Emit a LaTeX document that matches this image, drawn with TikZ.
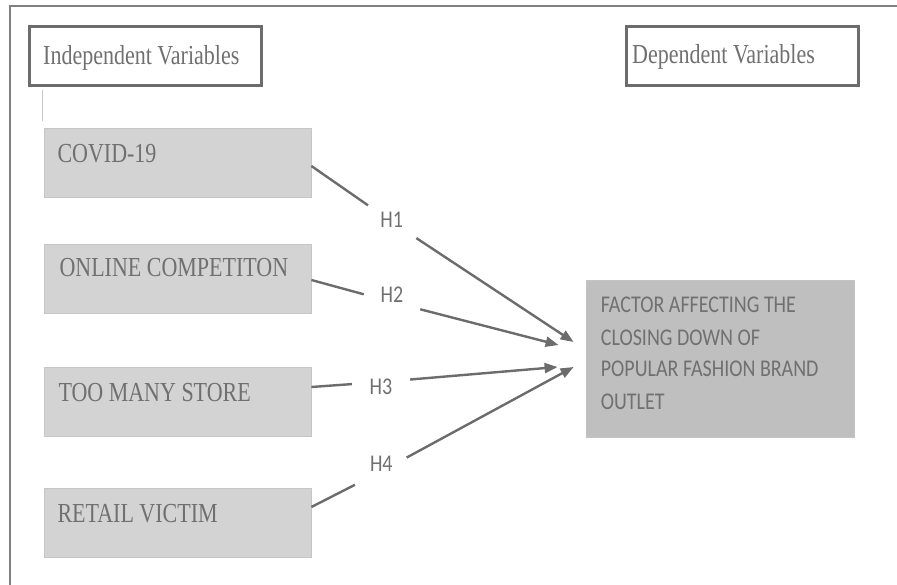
\documentclass[tikz,border=0pt]{standalone}
\usepackage{fontspec}
\setmainfont{Liberation Serif}
\newfontfamily\calfont{Carlito}
\usetikzlibrary{arrows.meta,calc}

\definecolor{framegray}{RGB}{128,128,128}
\definecolor{titleedge}{RGB}{108,108,108}
\definecolor{ivfill}{RGB}{211,211,211}
\definecolor{ivedge}{RGB}{198,198,198}
\definecolor{dvfill}{RGB}{191,191,191}
\definecolor{textgray}{RGB}{112,112,112}
\definecolor{linkgray}{RGB}{108,108,108}

% vertically stretched text
\newcommand{\tallserif}[1]{\scalebox{1}[1.25]{#1}}
\newcommand{\tallsans}[1]{\scalebox{1}[1.2]{#1}}

\begin{document}
\begin{tikzpicture}[x=1pt,y=-1pt,
  titlebox/.style={draw=titleedge,line width=2.6pt,fill=white,inner sep=0pt,
                   minimum width=232pt,minimum height=59pt},
  ivbox/.style={draw=ivedge,line width=0.8pt,fill=ivfill,inner sep=0pt,
                minimum width=267pt,minimum height=69pt},
  dvbox/.style={draw=ivedge!60!dvfill,line width=0.8pt,fill=dvfill,inner sep=0pt,
                minimum width=268pt,minimum height=157pt},
  serifword/.style={inner sep=0pt,anchor=base west,text=textgray,
                    font=\fontsize{22}{26}\selectfont},
  sansword/.style={inner sep=0pt,anchor=base west,text=textgray,
                   font=\calfont\fontsize{20}{24}\selectfont},
  hyp/.style={inner sep=0pt,text=textgray,font=\calfont\fontsize{20}{24}\selectfont},
  gap/.style={circle,minimum size=58pt,inner sep=0pt},
  link/.style={draw=linkgray,line width=2.4pt},
  tip/.style={-{Triangle[length=13pt,width=10pt]}}
]
\useasboundingbox (0,0) rectangle (897,585);

% page frame (top and left edges)
\draw[framegray,line width=1.4pt] (897,6) -- (10,6) -- (10,585);

% headings
\node[titlebox] (ind) at (145.5,56) {};
\node[serifword] (indtext) at (43,65) {\tallserif{Independent Variables}};
\node[titlebox] (dep) at (742.5,56) {};
\node[serifword] (deptext) at (632,64) {\tallserif{Dependent Variables}};

% independent variable boxes
\node[ivbox] (c1) at (177.5,162.5) {};
\node[ivbox] (c2) at (177.5,278.5) {};
\node[ivbox] (c3) at (177.5,402) {};
\node[ivbox] (c4) at (177.5,523) {};
\node[serifword] (l1) at (57.3,162.7) {\tallserif{COVID-19}};
\node[serifword] (l2) at (59.3,276.7) {\tallserif{ONLINE COMPETITON}};
\node[serifword] (l3) at (58.3,401.7) {\tallserif{TOO MANY STORE}};
\node[serifword] (l4) at (57.3,522.3) {\tallserif{RETAIL VICTIM}};

% thin mark under the heading
\draw[ivedge,line width=1pt] ($(c1.north west)+(-1,-38)$) -- ($(c1.north west)+(-1,-7)$);

% dependent variable box
\node[dvbox] (f) at (720,358.5) {};
\node[sansword] (f1) at (600.7,313) {\tallsans{FACTOR AFFECTING THE}};
\node[sansword] (f2) at (600.7,345) {\tallsans{CLOSING DOWN OF}};
\node[sansword] (f3) at (600.7,377) {\tallsans{POPULAR FASHION BRAND}};
\node[sansword] (f4) at (600.7,409) {\tallsans{OUTLET}};

% hypothesis labels
\node[hyp] (h1) at (391.7,219.5) {\tallsans{H1}};
\node[hyp] (h2) at (392,295) {\tallsans{H2}};
\node[hyp] (h3) at (381,386.7) {\tallsans{H3}};
\node[hyp] (h4) at (381.3,464) {\tallsans{H4}};

% breaks in the arrows around the labels
\node[gap] (g1) at (392,222) {};
\node[gap] (g2) at (392,302) {};
\node[gap] (g3) at (381,382) {};
\node[gap] (g4) at (381,471.5) {};

% arrow ends
\coordinate (s1) at ($(c1.east)+(0,3.5)$);
\coordinate (s2) at ($(c2.east)+(0,1.5)$);
\coordinate (s3) at ($(c3.east)+(0,-15)$);
\coordinate (s4) at ($(c4.east)+(0,-16)$);
\coordinate (t1) at ($(f.west)+(-12,-16.5)$);
\coordinate (t2) at ($(f.west)+(-27,-13.5)$);
\coordinate (t3) at ($(f.west)+(-28,8.5)$);
\coordinate (t4) at ($(f.west)+(-12,8.5)$);

% hypothesis arrows
\draw[link] (s1) -- (g1);
\draw[link,tip] (g1) -- (t1);
\draw[link] (s2) -- (g2);
\draw[link,tip] (g2) -- (t2);
\draw[link] (s3) -- (g3);
\draw[link,tip] (g3) -- (t3);
\draw[link] (s4) -- (g4);
\draw[link,tip] (g4) -- (t4);
\end{tikzpicture}
\end{document}
